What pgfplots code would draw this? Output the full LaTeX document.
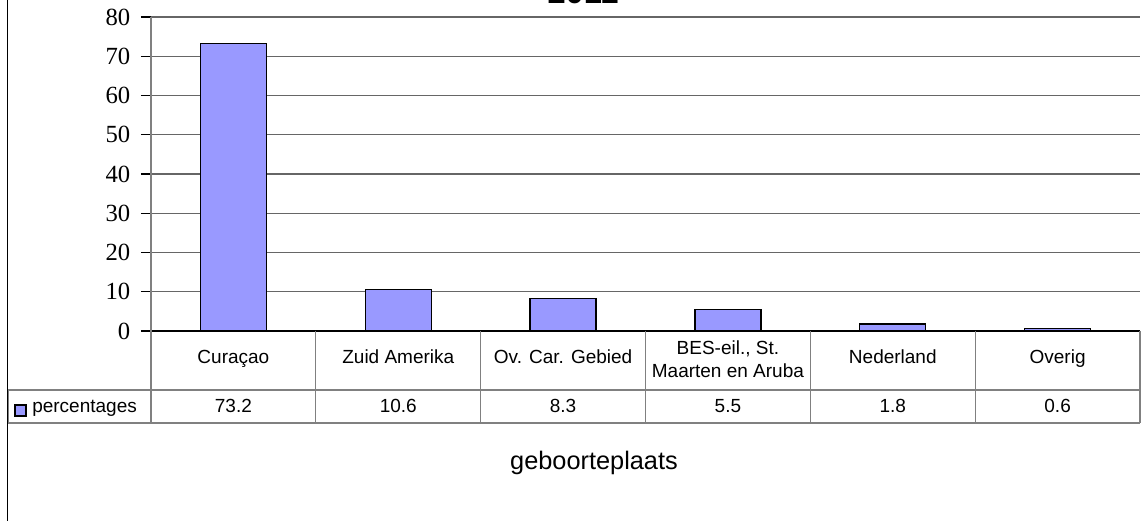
\documentclass[border=0pt]{standalone}
\usepackage{pgfplots}
\pgfplotsset{compat=1.18}
\usepackage{fontspec}
\setmainfont{Liberation Sans}
\newfontfamily\serifnums{Liberation Serif}
\definecolor{barblue}{HTML}{9999FF}
\definecolor{tablegray}{HTML}{808080}
\begin{document}
\begin{tikzpicture}[x=0.75pt,y=0.75pt]
\path[use as bounding box] (0,0) rectangle (1146,521);
\begin{axis}[
  at={(113.25pt,142.5pt)}, anchor=south west,
  scale only axis, width=741.75pt, height=235.5pt,
  xmin=-0.5, xmax=5.5, ymin=0, ymax=80,
  ytick={0,10,...,80}, xtick=\empty,
  ymajorgrids, grid style={black!60, line width=0.8pt},
  axis x line*=bottom, axis y line*=left,
  separate axis lines,
  x axis line style={black, line width=0.9pt, -},
  y axis line style={tablegray, line width=0.9pt, -},
  tick align=outside, ytick pos=left,
  major tick length=7.5pt,
  tick style={black, line width=0.8pt},
  /pgf/number format/assume math mode=true,
  yticklabel style={font=\serifnums\fontsize{18.5}{20}\selectfont, xshift=-4.5pt},
  clip=false,
]
\addplot[ybar, bar width=49.5pt, fill=barblue, draw=black, line width=1pt]
  coordinates {(0,73.2) (1,10.6) (2,8.3) (3,5.5) (4,1.8) (5,0.6)};
\end{axis}
% data table
\draw[tablegray, line width=0.9pt] (8,131) -- (1140,131);
\draw[tablegray, line width=0.9pt] (8,98) -- (1140,98);
\foreach \xx in {151,315.8,480.7,645.5,810.3,975.2,1140}
  \draw[tablegray, line width=0.9pt] (\xx,190) -- (\xx,98);
\draw[tablegray, line width=0.9pt] (8,131) -- (8,98);
\begin{scope}[every node/.style={font=\fontsize{14.25}{17}\selectfont, align=center, text height=10.5pt, text depth=3pt}]
\node at (233.4,162) {Curaçao};
\node at (398.3,162) {Zuid Amerika};
\node at (563.1,162) {Ov. Car. Gebied};
\node at (892.8,162) {Nederland};
\node at (1057.6,162) {Overig};
\node at (233.4,113) {73.2};
\node at (398.3,113) {10.6};
\node at (563.1,113) {8.3};
\node at (727.9,113) {5.5};
\node at (892.8,113) {1.8};
\node at (1057.6,113) {0.6};
\node[anchor=west, inner sep=0pt] at (32,113) {percentages};
\end{scope}
\node[font=\fontsize{14.25}{17.5}\selectfont, align=center] at (727.9,162) {BES-eil., St.\\Maarten en Aruba};
\draw[fill=barblue, draw=black, line width=0.8pt] (15,105) rectangle (26,116);
% axis title
\node[font=\fontsize{19}{22}\selectfont] at (594,58) {geboorteplaats};
% chart title (cut off at top)
\node[anchor=base, font=\bfseries\fontsize{24.5}{28}\selectfont] at (583,517) {2011};
% chart frame left edge
\draw[black, line width=1.2pt] (7.5,-5) -- (7.5,530);
\end{tikzpicture}
\end{document}
